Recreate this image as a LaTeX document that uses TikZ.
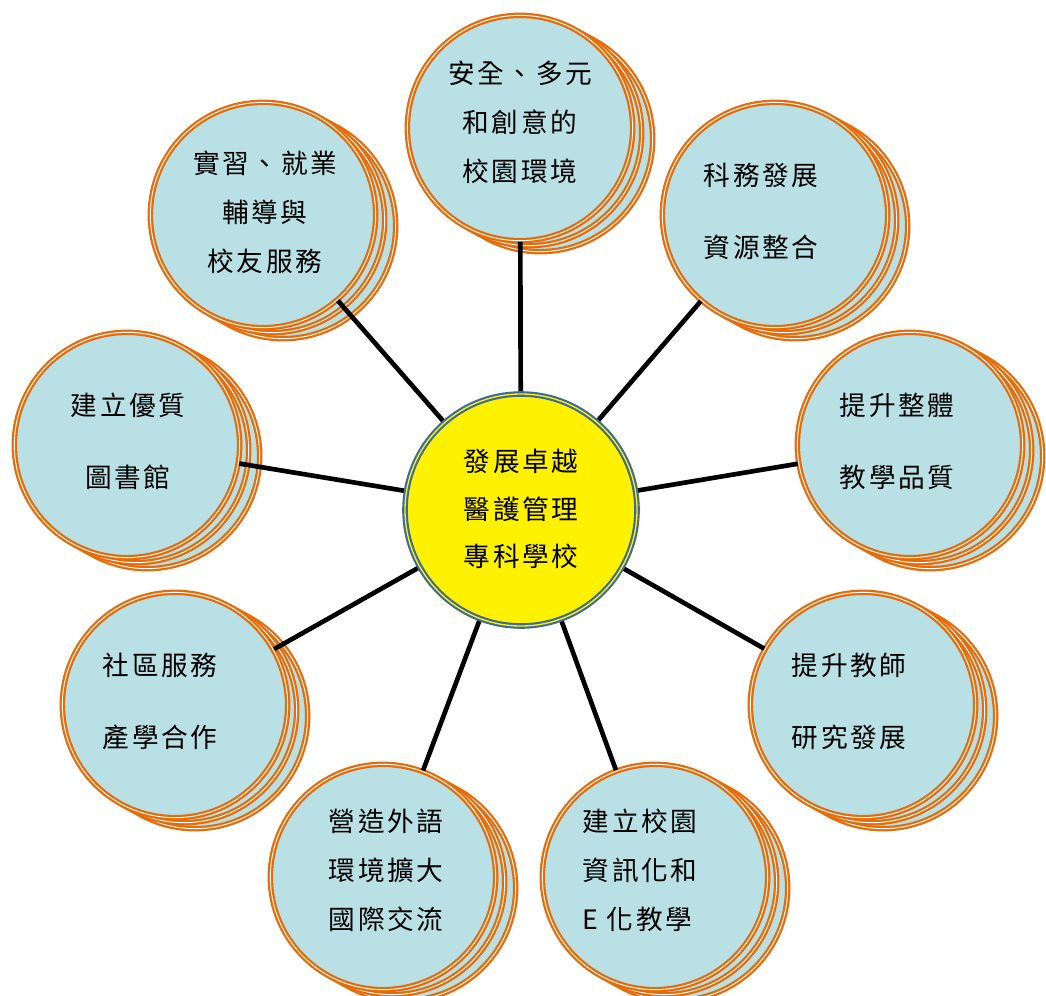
\documentclass[tikz,border=0pt]{standalone}
\usepackage{fontspec}
\newfontfamily\cjk[LetterSpace=10]{Noto Sans CJK TC}
\definecolor{ringor}{RGB}{228,108,10}
\definecolor{satfill}{RGB}{185,224,228}
\definecolor{cblue}{RGB}{60,105,160}
\tikzset{
  sat/.style={circle, minimum size=169pt, inner sep=0pt, fill=satfill, draw=ringor,
    line width=1.7pt, double=white, double distance=0.7pt},
  centre/.style={circle, minimum size=174pt, inner sep=0pt, fill=yellow, draw=cblue,
    line width=1.6pt, double=yellow, double distance=1pt},
  conn/.style={line width=3.5pt, black},
  txt/.style={font=\cjk\fontsize{20}{36.75}\selectfont, align=center, inner sep=0pt},
  txtwide/.style={font=\cjk\fontsize{20}{54}\selectfont, align=center, inner sep=0pt},
}
\begin{document}
\begin{tikzpicture}[x=0.75pt,y=-0.75pt]
\useasboundingbox (0,0) rectangle (1046,996);
% satellites (two back copies + front)
\foreach \n/\x/\y in {s1/520/128, s2/775/215, s3/910/445, s4/863/705, s5/655/877,
                      s6/383/877, s7/175/705, s8/127/445, s9/263/215} {
  \node[sat] (\n b) at (\x+20,\y+11) {};
  \node[sat] (\n a) at (\x+9,\y+5) {};
  \node[sat] (\n) at (\x,\y) {};
}
% connectors from the centre point
\coordinate (cc) at (521,510);
\foreach \n in {s1,s2,s3,s4,s5,s6,s7,s8,s9} {
  \draw[conn] (cc) -- (\n);
}
% centre
\node[centre] (c) at (521,510) {};
% texts
\node[txt] (t1) at (520,122) {安全、多元\\和創意的\\校園環境};
\node[txt] (t9) at (265,212) {實習、就業\\輔導與\\校友服務};
\node[txtwide] (t2) at (761,211) {科務發展\\資源整合};
\node[txtwide] (t3) at (897,441) {提升整體\\教學品質};
\node[txtwide] (t4) at (849,701) {提升教師\\研究發展};
\node[txt, align=left] (t5) at (640,870) {建立校園\\資訊化和\\E 化教學};
\node[txt] (t6) at (386,870) {營造外語\\環境擴大\\國際交流};
\node[txtwide] (t7) at (160,701) {社區服務\\產學合作};
\node[txtwide] (t8) at (128,441) {建立優質\\圖書館};
\node[font=\cjk\fontsize{20}{35.6}\selectfont, align=center, inner sep=0pt] (t0) at (521,509) {發展卓越\\醫護管理\\專科學校};
\end{tikzpicture}
\end{document}
